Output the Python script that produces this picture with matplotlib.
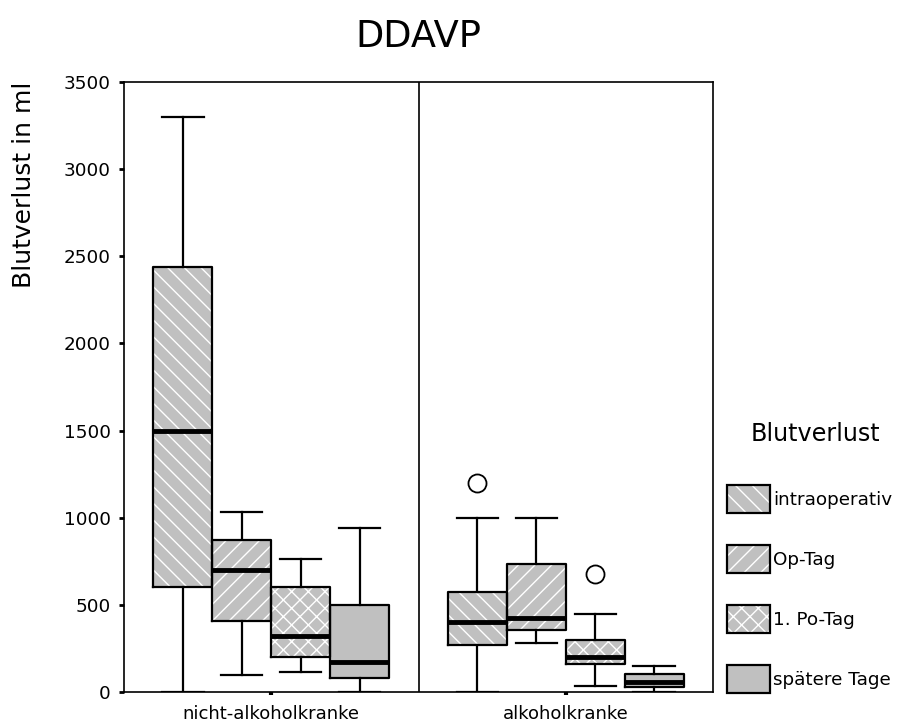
import matplotlib.pyplot as plt
from matplotlib.patches import Patch
from matplotlib.legend_handler import HandlerTuple

plt.rcParams['font.family'] = ['DejaVu Sans']
plt.rcParams['hatch.linewidth'] = 1.0

groups = ['nicht-alkoholkranke', 'alkoholkranke']
phases = ['intraoperativ', 'Op-Tag', '1. Po-Tag', 'spätere Tage']
hatches = ['\\\\', '//', 'xx', '']

# one row per phase, columns: nicht-alkoholkranke, alkoholkranke
whis_lo = [[0, 0], [100, 280], [115, 35], [0, 0]]
q1 = [[600, 270], [410, 355], [200, 160], [80, 30]]
median = [[1500, 400], [700, 425], [320, 200], [170, 60]]
q3 = [[2440, 575], [870, 735], [600, 300], [500, 105]]
whis_hi = [[3300, 1000], [1030, 1000], [765, 445], [940, 150]]
outliers = [[[], [1200]], [[], []], [[], [675]], [[], []]]

grey = '#c0c0c0'
offsets = [-0.3, -0.1, 0.1, 0.3]
bw = 0.2

fig = plt.figure(figsize=(9, 7.24), dpi=100)
ax = fig.add_axes([124 / 900, 32 / 724, 589 / 900, 610 / 724])

for i in range(len(phases)):
    stats = []
    for g in range(len(groups)):
        stats.append(dict(whislo=whis_lo[i][g], q1=q1[i][g], med=median[i][g],
                          q3=q3[i][g], whishi=whis_hi[i][g],
                          fliers=outliers[i][g]))
    pos = [g + offsets[i] for g in range(len(groups))]
    # filled, hatched boxes (white hatch lines, no outline)
    ax.bxp(stats, positions=pos, widths=bw, patch_artist=True,
           showcaps=False, showfliers=False,
           boxprops=dict(facecolor=grey, edgecolor='white', linewidth=0,
                         hatch=hatches[i]),
           whiskerprops=dict(linestyle='none'),
           medianprops=dict(linestyle='none'), zorder=2)
    # outlines, whiskers, caps, medians, outliers
    ax.bxp(stats, positions=pos, widths=bw, capwidths=0.14,
           boxprops=dict(color='black', linewidth=1.6),
           whiskerprops=dict(color='black', linewidth=1.6),
           capprops=dict(color='black', linewidth=1.6),
           medianprops=dict(color='black', linewidth=3.5, solid_capstyle='butt'),
           flierprops=dict(marker='o', markersize=13, markerfacecolor='white',
                           markeredgecolor='black', markeredgewidth=1.3),
           zorder=3)

ax.axvline(0.5, color='black', linewidth=1.2, zorder=4)

ax.set_xlim(-0.5, 1.5)
ax.set_ylim(0, 3500)
ax.set_xticks(range(len(groups)))
ax.set_xticklabels(groups, fontsize=13)
ax.set_yticks(range(0, 3501, 500))
ax.tick_params(axis='y', direction='out', length=3.6, width=2, labelsize=13.2, pad=6)
ax.tick_params(axis='x', direction='out', length=2.5, width=3, pad=7)
for s in ax.spines.values():
    s.set_linewidth(1.2)

ax.set_title('DDAVP', fontsize=26.5, pad=25)
fig.text(24 / 900, 1 - 82 / 724, 'Blutverlust in ml', rotation=90,
         ha='center', va='top', fontsize=18)

# legend title and entries
fig.text(815 / 900, 1 - 434 / 724, 'Blutverlust', ha='center', va='center',
         fontsize=17.2)
handles = []
for i in range(len(phases)):
    handles.append((Patch(facecolor=grey, edgecolor='white', linewidth=0, hatch=hatches[i]),
                    Patch(facecolor='none', edgecolor='black', linewidth=1.6)))
leg = fig.legend(handles, phases, loc='upper left',
                 bbox_to_anchor=(727 / 900, 1 - 485 / 724), frameon=False,
                 handler_map={tuple: HandlerTuple(ndivide=1, pad=0)},
                 handlelength=2.35, handleheight=2.0, handletextpad=0.15,
                 labelspacing=1.72, fontsize=13.2,
                 borderpad=0, borderaxespad=0)

fig.savefig('out.png', dpi=100)
